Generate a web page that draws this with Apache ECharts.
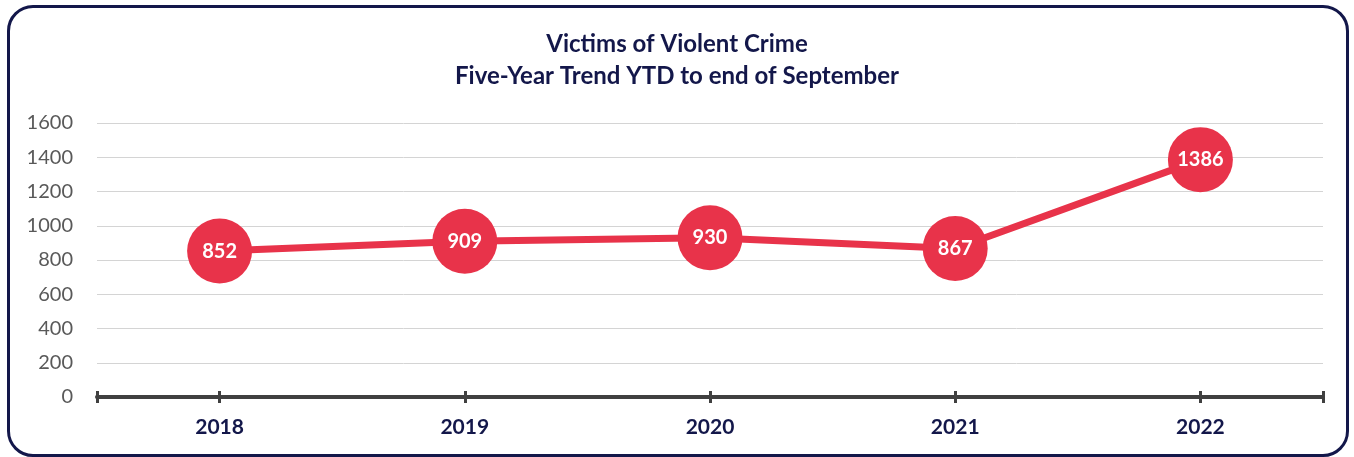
<!DOCTYPE html>
<html>
<head>
<meta charset="utf-8">
<script src="https://cdn.jsdelivr.net/npm/echarts@6/dist/echarts.min.js"></script>
<style>
  html, body { margin: 0; padding: 0; background: #fff; }
  #wrap { position: relative; width: 1354px; height: 457px; }
  #chart { position: absolute; left: 0; top: 0; width: 1354px; height: 457px; }
  #frame {
    position: absolute; left: 7px; top: 5px; width: 1336px; height: 446px;
    border: 3px solid #13174a; border-radius: 26px; pointer-events: none;
  }
</style>
</head>
<body>
<div id="wrap">
  <div id="chart"></div>
  <div id="frame"></div>
</div>
<script>
// data
const years = ['2018', '2019', '2020', '2021', '2022'];
const victims = [852, 909, 930, 867, 1386];
const titleLines = ['Victims of Violent Crime', 'Five-Year Trend YTD to end of September'];

const chart = echarts.init(document.getElementById('chart'));
const font = 'Lato, "Open Sans", sans-serif';
const navy = '#13174a';
const red = '#e8334a';

// tick helper: same category axis, only ticks shown
const tickAxis = (inside, ends) => ({
  type: 'category',
  data: years,
  position: 'bottom',
  boundaryGap: true,
  axisLine: { show: false },
  axisLabel: { show: false },
  axisTick: {
    show: true,
    inside: inside,
    length: 6,
    alignWithLabel: !ends,
    interval: ends ? (idx) => idx === 0 : 0,
    lineStyle: { color: '#404040', width: 3 }
  }
});

chart.setOption({
  animation: false,
  title: {
    text: titleLines.join('\n'),
    left: 'center',
    top: 23,
    textStyle: {
      fontFamily: font,
      fontSize: 24,
      fontWeight: 'bold',
      color: navy,
      lineHeight: 32
    }
  },
  grid: { left: 97, right: 31, top: 123, bottom: 60 },
  xAxis: [
    {
      type: 'category',
      data: years,
      boundaryGap: true,
      axisLine: { lineStyle: { color: '#404040', width: 4 } },
      axisTick: { show: true, alignWithLabel: true, length: 6, lineStyle: { color: '#404040', width: 3 } },
      axisLabel: {
        fontFamily: font,
        fontSize: 21,
        fontWeight: 'bold',
        color: navy,
        margin: 20
      }
    },
    tickAxis(true, false),
    tickAxis(false, true),
    tickAxis(true, true)
  ],
  yAxis: {
    type: 'value',
    min: 0,
    max: 1600,
    interval: 200,
    axisLine: { show: false },
    axisTick: { show: false },
    splitLine: { lineStyle: { color: '#d4d4d4', width: 1 } },
    axisLabel: {
      fontFamily: font,
      fontSize: 20,
      color: '#595959',
      margin: 24,
      formatter: (v) => String(v)
    }
  },
  series: [{
    type: 'line',
    data: victims,
    symbol: 'circle',
    symbolSize: 65,
    lineStyle: { color: red, width: 7 },
    itemStyle: { color: red },
    label: {
      show: true,
      position: 'inside',
      fontFamily: font,
      fontSize: 20,
      fontWeight: 'bold',
      color: '#fff'
    },
    z: 5
  }]
});
</script>
</body>
</html>
